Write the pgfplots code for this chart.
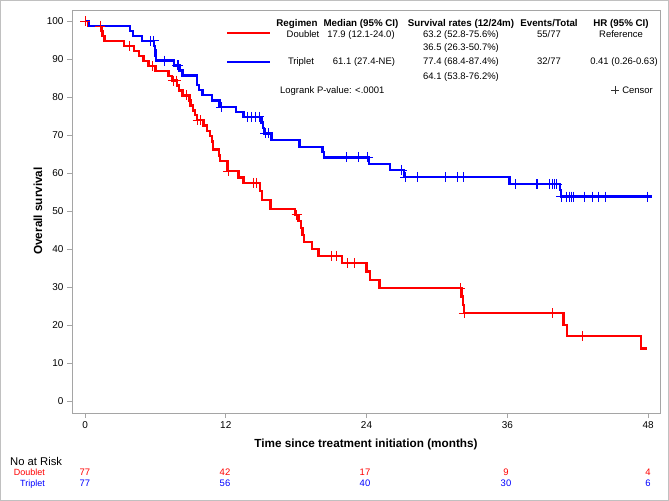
\documentclass[border=0pt]{standalone}
\usepackage{fontspec}
\setmainfont{Liberation Sans}
\usepackage{pgfplots}
\pgfplotsset{compat=1.18}
\definecolor{kmred}{RGB}{255,0,0}
\definecolor{kmblue}{RGB}{0,0,255}
\definecolor{framegray}{RGB}{165,165,165}
\newcommand{\tf}{\fontsize{9.5}{11}\selectfont}
\newcommand{\tb}{\fontsize{9.8}{11}\selectfont\bfseries}
\begin{document}
\begin{tikzpicture}
\begin{scope}[x=1bp,y=-1bp]
\path[use as bounding box] (0,0) rectangle (669,501);
\draw[framegray!70, line width=0.8bp] (0.4,0.4) rectangle (668.6,500.6);
\end{scope}
\begin{axis}[at={(72bp,-413bp)}, anchor=south west, scale only axis,
  width=588bp, height=403bp,
  xmin=-1.11, xmax=49.02, ymin=-3.16, ymax=102.9,
  xtick={0,12,24,36,48}, ytick={0,10,...,100},
  tick align=outside, major tick length=5bp,
  axis line style={framegray, line width=0.8bp},
  tick style={framegray, line width=0.8bp},
  tick label style={font=\fontsize{10}{12}\selectfont},
  /pgf/number format/assume math mode=true,
  xtick pos=bottom, ytick pos=left]
\addplot[const plot, kmred, line width=2.4bp] table {
0 100
0.3 98.7
1.4 97.4
1.5 96.1
1.65 94.7
3.3 93.4
4.15 92.1
4.6 90.8
5.0 89.5
5.4 88.2
6.0 86.9
7.1 85.6
7.4 84.3
7.85 83.0
8.0 81.7
8.3 80.4
8.9 79.1
9.0 77.8
9.2 76.5
9.4 75.2
9.55 73.9
10.1 72.5
10.4 71.1
10.65 69.7
10.8 68.3
10.9 66.2
11.4 64.6
11.5 63.2
12.15 60.5
13.1 58.8
13.5 57.4
14.9 55.2
15.1 52.9
15.8 50.6
17.9 49.0
18.2 47.3
18.4 45.6
18.55 43.7
18.65 41.8
19.35 40.0
19.9 38.2
21.9 36.3
24.0 34.1
24.3 31.9
25.1 29.7
32.1 27.5
32.2 25.3
32.3 23.1
40.8 20.0
41.1 17.1
47.4 13.8
47.9 13.8
};
\addplot[only marks, mark=+, kmred, mark size=5bp, mark options={line width=0.7bp}] table {
0 100
1.3 98.7
3.8 93.4
5.75 88.2
7.5 84.3
7.75 84.3
8.6 80.4
9.6 73.9
9.8 73.9
12.2 60.5
14.35 57.4
14.6 57.4
18.05 49.0
21.0 38.2
21.4 38.2
22.4 36.3
23.0 36.3
32.0 29.7
32.3 23.1
39.8 23.1
42.4 17.1
};
\addplot[const plot, kmblue, line width=2.4bp] table {
0 100
0.35 98.7
3.85 97.4
4.1 96.1
4.85 94.8
5.9 93.5
5.95 92.2
6.0 90.9
6.05 89.6
7.6 88.3
8.05 87.0
8.3 85.7
9.55 83.1
9.7 81.8
10.0 80.5
10.85 79.1
11.45 77.4
12.85 76.1
13.5 74.8
15.05 73.3
15.15 71.8
15.25 70.4
15.9 68.7
18.3 66.9
20.25 65.5
20.35 64.1
24.2 62.4
26.0 60.8
27.2 58.9
36.2 57.1
40.5 55.5
40.6 53.8
48.3 53.8
};
\addplot[only marks, mark=+, kmblue, mark size=5bp, mark options={line width=0.7bp}] table {
5.6 94.8
5.85 94.8
6.75 89.6
7.85 88.3
7.95 88.3
11.6 77.4
13.8 74.8
14.2 74.8
14.55 74.8
14.85 74.8
15.35 70.4
15.6 70.4
22.3 64.1
23.3 64.1
24.1 64.1
27.0 60.8
27.3 58.9
28.3 58.9
30.7 58.9
31.7 58.9
32.25 58.9
36.7 57.1
38.45 57.1
38.6 57.1
39.55 57.1
39.85 57.1
40.05 57.1
40.2 57.1
40.6 53.8
41.05 53.8
41.3 53.8
41.45 53.8
41.6 53.8
42.6 53.8
43.25 53.8
43.75 53.8
44.4 53.8
47.95 53.8
};
\end{axis}
\begin{scope}[x=1bp,y=-1bp]
% axis labels
\node[font=\fontsize{11.8}{13}\selectfont\bfseries] at (366,444) {Time since treatment initiation (months)};
\node[font=\fontsize{11.8}{13}\selectfont\bfseries, rotate=90] at (38,211) {Overall survival};
% legend table
\draw[kmred, line width=2bp] (227,33) -- (270,33);
\draw[kmblue, line width=2bp] (227,62) -- (270,62);
\begin{scope}[every node/.style={font=\tf, inner sep=0pt, anchor=base}]
\node[font=\tb] at (297,26.5) {Regimen};
\node[font=\tb] at (361,26.5) {Median (95\% CI)};
\node[font=\tb] at (461,26.5) {Survival rates (12/24m)};
\node[font=\tb] at (549,26.5) {Events/Total};
\node[font=\tb] at (621,26.5) {HR (95\% CI)};
\node at (303,37.5) {Doublet};
\node at (361,37.5) {17.9 (12.1-24.0)};
\node at (461,37.5) {63.2 (52.8-75.6\%)};
\node at (549,37.5) {55/77};
\node at (621,37.5) {Reference};
\node at (461,51) {36.5 (26.3-50.7\%)};
\node at (301,65) {Triplet};
\node at (364,65) {61.1 (27.4-NE)};
\node at (461,65) {77.4 (68.4-87.4\%)};
\node at (549,65) {32/77};
\node at (624,65) {0.41 (0.26-0.63)};
\node at (461,79.5) {64.1 (53.8-76.2\%)};
\node[anchor=base west] at (280,93.5) {Logrank P-value: <.0001};
\node[anchor=base east] at (653,93.5) {Censor};
\end{scope}
\draw[black!80, line width=0.6bp] (611,90) -- (619,90) (615,86) -- (615,94);
% risk table
\begin{scope}[every node/.style={inner sep=0pt}]
\node[anchor=base west, font=\fontsize{11.3}{13}\selectfont] at (10,465) {No at Risk};
\node[anchor=base east, kmred, font=\fontsize{9}{11}\selectfont] at (45,475) {Doublet};
\node[anchor=base east, kmblue, font=\fontsize{9}{11}\selectfont] at (45,486) {Triplet};
\foreach \x/\v in {85/77, 225/42, 365/17, 506/9, 648/4}
  \node[anchor=base, kmred, font=\fontsize{9.5}{11}\selectfont] at (\x,475) {\v};
\foreach \x/\v in {85/77, 225/56, 365/40, 506/30, 648/6}
  \node[anchor=base, kmblue, font=\fontsize{9.5}{11}\selectfont] at (\x,486) {\v};
\end{scope}
\end{scope}
\end{tikzpicture}
\end{document}
